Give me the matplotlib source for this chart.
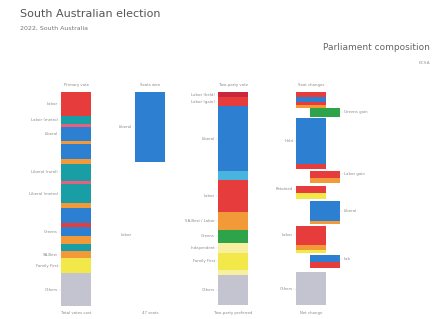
import matplotlib
matplotlib.use("Agg")
import matplotlib.pyplot as plt

# party colours
RED = "#e63c3c"
DRED = "#c9283c"
BLUE = "#2d7fd2"
CYAN = "#49b4e0"
TEAL = "#1a9ea6"
PINK = "#e8607c"
ORANGE = "#f29a38"
YELLOW = "#f3e84a"
PALE = "#f6f0a0"
GREEN = "#2ea44a"
GREY = "#c4c4d0"

col_titles = ["Primary vote", "Seats won", "Two-party vote", "Seat changes"]
col_footers = ["Total votes cast", "47 seats", "Two-party preferred", "Net change"]

# column 1: primary vote by district (%)
c1_vals = [11.2, 3.7, 1.4, 6.5, 1.4, 7.0, 2.3, 7.9, 1.4, 9.3, 2.3, 7.0, 1.9, 4.2, 3.3, 3.3, 3.7, 7.0, 15.0]
c1_cols = [RED, TEAL, PINK, BLUE, ORANGE, BLUE, ORANGE, TEAL, PINK, TEAL, ORANGE, BLUE, RED, BLUE, ORANGE, TEAL, ORANGE, YELLOW, GREY]
c1_labels = {0: "Labor", 1: "Labor (metro)", 3: "Liberal", 7: "Liberal (rural)",
             9: "Liberal (metro)", 13: "Greens", 16: "SA-Best", 17: "Family First", 18: "Others"}

# column 2: seats
c2_vals = [32.7]
c2_cols = [BLUE]
c2_labels = {0: "Liberal"}
c2_note = "Labor"

# column 3: two-party vote
c3_vals = [2.4, 4.2, 30.5, 3.8, 15.0, 8.5, 6.1, 4.7, 8.0, 2.3, 14.1]
c3_cols = [DRED, RED, BLUE, CYAN, RED, ORANGE, GREEN, PALE, YELLOW, PALE, GREY]
c3_labels = {0: "Labor (held)", 1: "Labor (gain)", 2: "Liberal", 4: "Labor",
             5: "SA-Best / Labor", 6: "Greens", 7: "Independent", 8: "Family First", 10: "Others"}

# column 4: seat changes (shifted = seat changed hands)
c4_vals = [2.3, 2.3, 1.4, 1.4, 4.2, 0.5, 21.5, 2.3, 0.9, 3.3, 2.3, 1.4, 3.3, 2.8, 0.9, 9.3, 1.4, 0.9, 9.3, 2.3, 1.4, 0.9, 3.3, 2.8, 1.9, 15.4]
c4_cols = [RED, BLUE, RED, ORANGE, GREEN, None, BLUE, RED, None, RED, ORANGE, None, RED, YELLOW, None, BLUE, ORANGE, None, RED, ORANGE, YELLOW, None, BLUE, RED, None, GREY]
c4_shift = [0, 0, 0, 0, 1, 0, 0, 0, 0, 1, 1, 0, 0, 0, 0, 1, 1, 0, 0, 0, 0, 0, 1, 1, 0, 0]
c4_labels = {6: "Held", 12: "Retained", 18: "Labor", 25: "Others"}
c4_right = {4: "Greens gain", 9: "Labor gain", 15: "Liberal", 22: "Lab"}

columns = [
    (c1_vals, c1_cols, [0] * len(c1_vals), c1_labels, {}),
    (c2_vals, c2_cols, [0], c2_labels, {}),
    (c3_vals, c3_cols, [0] * len(c3_vals), c3_labels, {}),
    (c4_vals, c4_cols, c4_shift, c4_labels, c4_right),
]
col_x = [76, 150, 233, 311]
bar_w = 30
shift_w = 14
txt = "#8a8a8a"

fig = plt.figure(figsize=(4.44, 3.19), dpi=100)
ax = fig.add_axes([0, 13 / 319, 1, 214 / 319])
ax.set_xlim(0, 444)
ax.set_ylim(100, 0)
ax.axis("off")

for (vals, cols, shift, labels, right), x in zip(columns, col_x):
    bottom = 0
    for i, (v, c, s) in enumerate(zip(vals, cols, shift)):
        xx = x + s * shift_w
        if c is not None:
            ax.bar(xx, v, bottom=bottom, width=bar_w, color=c, edgecolor="none")
        mid = bottom + v / 2
        if i in labels:
            ax.text(x - bar_w / 2 - 3, mid, labels[i], ha="right", va="center",
                    fontsize=2.8, color=txt)
            ax.plot([x - bar_w / 2 - 2.5, x - bar_w / 2], [mid, mid], color="#dddddd", lw=0.3)
        if i in right:
            ax.text(xx + bar_w / 2 + 4, mid, right[i], ha="left", va="center",
                    fontsize=2.8, color=txt)
            ax.plot([xx + bar_w / 2, xx + bar_w / 2 + 3], [mid, mid], color="#dddddd", lw=0.3)
        bottom += v

# note for the empty part of the seats column
ax.text(col_x[1] - bar_w / 2 - 3, 67, c2_note, ha="right", va="center", fontsize=2.8, color=txt)

for x, t, f in zip(col_x, col_titles, col_footers):
    ax.text(x, -2.5, t, ha="center", va="bottom", fontsize=2.8, color=txt)
    ax.text(x, 102.5, f, ha="center", va="top", fontsize=2.8, color=txt)

fig.text(20 / 444, 1 - 14 / 319, "South Australian election", fontsize=8, color="#555555", va="center")
fig.text(20 / 444, 1 - 28 / 319, "2022, South Australia", fontsize=4.5, color="#777777", va="center")
fig.text(430 / 444, 1 - 47 / 319, "Parliament composition", fontsize=6.5, color="#666666",
         ha="right", va="center")
fig.text(430 / 444, 1 - 63 / 319, "ECSA", fontsize=3.2, color="#999999", ha="right", va="center")

fig.savefig("out.png", dpi=100, facecolor="white")
